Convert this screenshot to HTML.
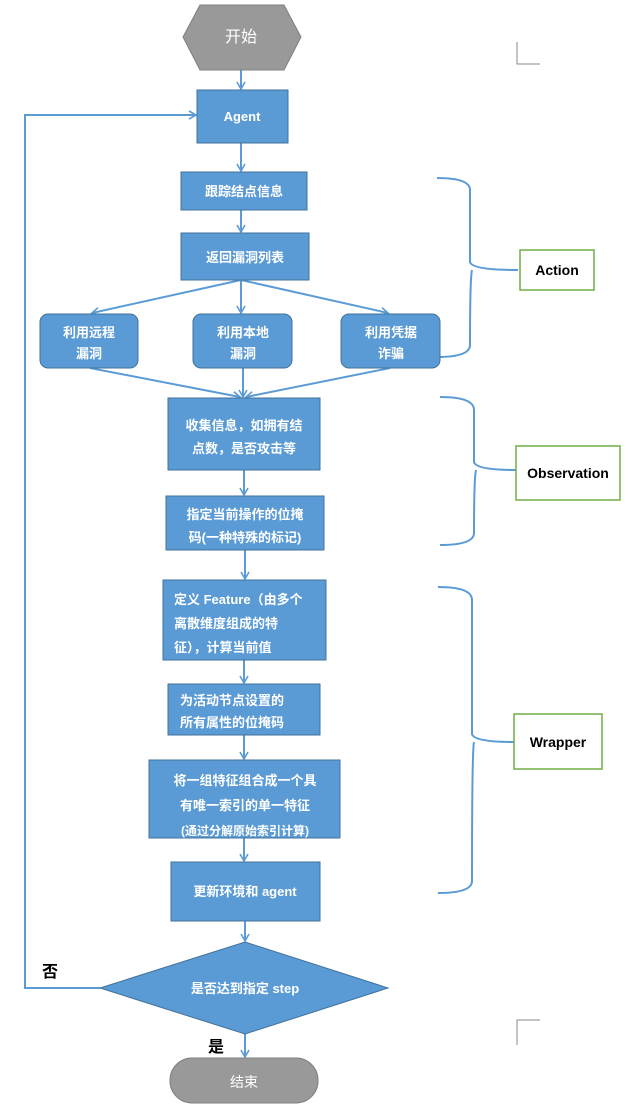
<!DOCTYPE html>
<html><head><meta charset="utf-8"><style>
body{margin:0;background:#fff;}
svg text{font-family:"Liberation Sans","Noto Sans CJK SC",sans-serif;}
</style></head><body>
<svg width="636" height="1114" viewBox="0 0 636 1114" xmlns="http://www.w3.org/2000/svg">
<defs><marker id="a" markerWidth="10" markerHeight="10" refX="8" refY="5" orient="auto" markerUnits="userSpaceOnUse"><path d="M1,1 L8,5 L1,9" fill="none" stroke="#5b9bd5" stroke-width="1.6"/></marker></defs>
<g stroke="#5b9bd5" stroke-width="2" fill="none">
<line x1="241" y1="70" x2="241" y2="89" marker-end="url(#a)"/>
<line x1="241" y1="143" x2="241" y2="171" marker-end="url(#a)"/>
<line x1="241" y1="210" x2="241" y2="232" marker-end="url(#a)"/>
<line x1="241" y1="280" x2="241" y2="313" marker-end="url(#a)"/>
<line x1="241" y1="280" x2="92" y2="313" marker-end="url(#a)"/>
<line x1="241" y1="280" x2="388" y2="313" marker-end="url(#a)"/>
<line x1="90" y1="368" x2="240" y2="397" marker-end="url(#a)"/>
<line x1="243" y1="368" x2="243" y2="397" marker-end="url(#a)"/>
<line x1="390" y1="368" x2="246" y2="397" marker-end="url(#a)"/>
<line x1="244" y1="470" x2="244" y2="495" marker-end="url(#a)"/>
<line x1="245" y1="550" x2="245" y2="579" marker-end="url(#a)"/>
<line x1="244" y1="660" x2="244" y2="683" marker-end="url(#a)"/>
<line x1="244" y1="735" x2="244" y2="759" marker-end="url(#a)"/>
<line x1="244" y1="838" x2="244" y2="861" marker-end="url(#a)"/>
<line x1="245" y1="921" x2="245" y2="941" marker-end="url(#a)"/>
<line x1="245" y1="1034" x2="245" y2="1057" marker-end="url(#a)"/>
<polyline points="100,988 25,988 25,115 196,115" marker-end="url(#a)"/>
<path d="M437,178 Q470,178 470,190 L470,262 Q472,270 518,270 M472,270 Q470,278 470,345 Q470,357 437,357"/>
<path d="M440,397 Q474,397 474,410 L474,462 Q476,470 516,470 M476,470 Q474,478 474,533 Q474,545 440,545"/>
<path d="M438,587 Q472,587 472,600 L472,734 Q474,742 514,742 M474,742 Q472,750 472,881 Q472,893 438,893"/>
</g>
<g stroke="#8a8a8a" fill="none" stroke-width="1"><path d="M517,42 V64 H540"/><path d="M517,1045 V1020 H540"/></g>
<polygon points="200,5 284,5 301,37 284,70 200,70 183,37" fill="#999" stroke="#7f7f7f"/>
<rect x="170" y="1058" width="148" height="45" rx="22" fill="#999" stroke="#7f7f7f"/>
<g fill="#5b9bd5" stroke="#41719c" stroke-width="1">
<rect x="197" y="90" width="91" height="53"/>
<rect x="181" y="172" width="126" height="38"/>
<rect x="181" y="233" width="128" height="47"/>
<rect x="40" y="314" width="98" height="54" rx="8"/>
<rect x="193" y="314" width="99" height="54" rx="8"/>
<rect x="341" y="314" width="99" height="54" rx="8"/>
<rect x="168" y="398" width="152" height="72"/>
<rect x="166" y="496" width="158" height="54"/>
<rect x="163" y="580" width="163" height="80"/>
<rect x="168" y="684" width="152" height="51"/>
<rect x="149" y="760" width="191" height="78"/>
<rect x="171" y="862" width="149" height="59"/>
<polygon points="245,942 388,988 245,1034 100,988"/>
</g>
<g fill="none" stroke="#70ad47" stroke-width="1.5">
<rect x="520" y="250" width="74" height="40"/>
<rect x="516" y="446" width="104" height="54"/>
<rect x="514" y="714" width="88" height="55"/>
</g>
<g fill="#fff" font-size="13" font-weight="bold" text-anchor="middle">
<text x="241" y="42" font-size="16" font-weight="normal">开始</text>
<text x="244" y="1087" font-size="14" font-weight="normal">结束</text>
<text x="242" y="121">Agent</text>
<text x="244" y="196">跟踪结点信息</text>
<text x="245" y="262">返回漏洞列表</text>
<text x="89" y="337">利用远程</text><text x="89" y="358">漏洞</text>
<text x="243" y="337">利用本地</text><text x="243" y="358">漏洞</text>
<text x="391" y="337">利用凭据</text><text x="391" y="358">诈骗</text>
<text x="244" y="430">收集信息，如拥有结</text><text x="244" y="453">点数，是否攻击等</text>
<text x="245" y="519">指定当前操作的位掩</text><text x="245" y="542">码(一种特殊的标记)</text>
<text x="174" y="604" text-anchor="start">定义 Feature（由多个</text>
<text x="174" y="628" text-anchor="start">离散维度组成的特</text>
<text x="174" y="652" text-anchor="start">征），计算当前值</text>
<text x="180" y="705" text-anchor="start">为活动节点设置的</text>
<text x="180" y="727" text-anchor="start">所有属性的位掩码</text>
<text x="245" y="785">将一组特征组合成一个具</text>
<text x="245" y="810">有唯一索引的单一特征</text>
<text x="245" y="835" font-size="12">(通过分解原始索引计算)</text>
<text x="245" y="896">更新环境和 agent</text>
<text x="245" y="993">是否达到指定 step</text>
</g>
<g fill="#000" font-size="14" font-weight="bold" text-anchor="middle">
<text x="557" y="275">Action</text>
<text x="568" y="478">Observation</text>
<text x="558" y="747">Wrapper</text>
<text x="50" y="977" font-size="16">否</text>
<text x="216" y="1052" font-size="16">是</text>
</g>
</svg>
</body></html>
